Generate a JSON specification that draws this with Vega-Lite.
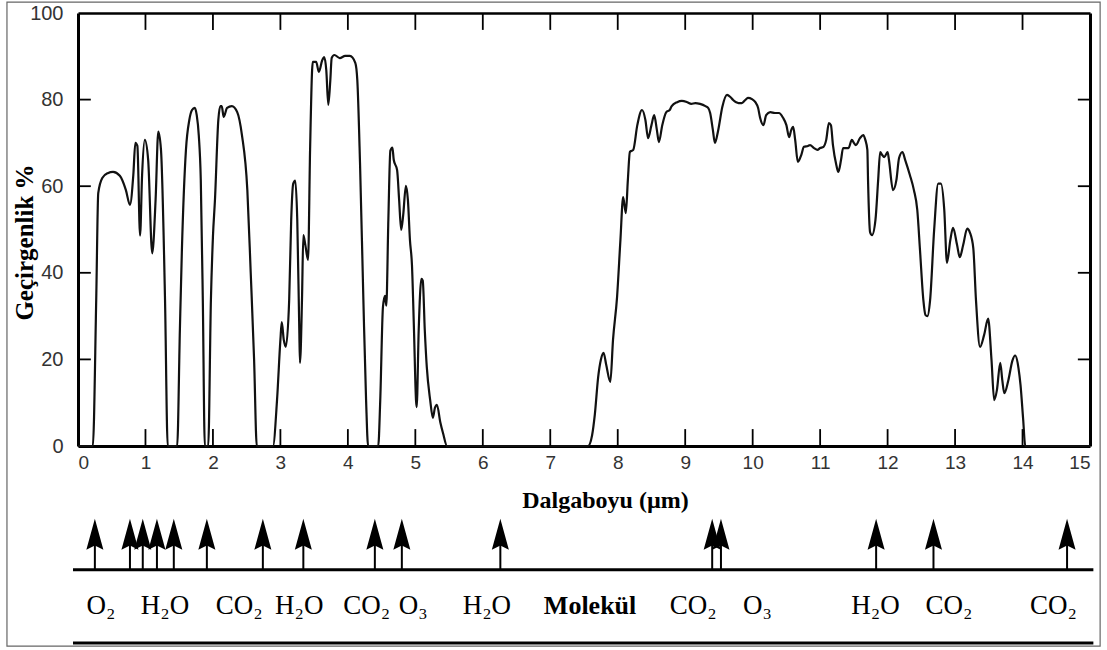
{
  "$schema": "https://vega.github.io/schema/vega-lite/v6.json",
  "width": 1012,
  "height": 433,
  "autosize": {"type": "none"},
  "padding": {"left": 78, "top": 13, "right": 17, "bottom": 204},
  "background": "white",
  "config": {"view": {"stroke": null}},
  "datasets": {
    "curve": [
      {"w":0,"t":0},{"w":0.22,"t":0},{"w":0.27,"t":33.7},{"w":0.30,"t":58.4},{"w":0.36,"t":61.9},{"w":0.44,"t":63.0},{"w":0.52,"t":63.3},{"w":0.62,"t":62.4},{"w":0.71,"t":59.1},{"w":0.77,"t":55.7},{"w":0.82,"t":62.6},{"w":0.85,"t":70.0},{"w":0.88,"t":69.3},{"w":0.92,"t":48.6},{"w":0.95,"t":62.6},{"w":0.99,"t":70.7},{"w":1.04,"t":66.1},{"w":1.10,"t":44.5},{"w":1.15,"t":56.8},{"w":1.19,"t":72.6},{"w":1.23,"t":68.4},{"w":1.29,"t":33.7},{"w":1.33,"t":0},
      {"w":1.47,"t":0},{"w":1.51,"t":26.8},{"w":1.54,"t":45.3},{"w":1.60,"t":68.4},{"w":1.65,"t":75.3},{"w":1.69,"t":77.6},{"w":1.73,"t":78.1},{"w":1.76,"t":76.4},{"w":1.79,"t":71.8},{"w":1.82,"t":61.4},{"w":1.85,"t":33.7},{"w":1.88,"t":0},
      {"w":1.93,"t":0},{"w":1.97,"t":33.7},{"w":2.00,"t":48.3},{"w":2.03,"t":56.8},{"w":2.08,"t":75.3},{"w":2.11,"t":78.5},{"w":2.13,"t":78.5},{"w":2.16,"t":76.0},{"w":2.21,"t":78.1},{"w":2.28,"t":78.5},{"w":2.36,"t":77.1},{"w":2.43,"t":71.8},{"w":2.51,"t":59.1},{"w":2.56,"t":40},{"w":2.61,"t":20},{"w":2.65,"t":0},
      {"w":2.89,"t":0},{"w":2.95,"t":10.6},{"w":3.00,"t":24.5},{"w":3.02,"t":28.6},{"w":3.05,"t":24.5},{"w":3.08,"t":22.9},{"w":3.13,"t":33.7},{"w":3.16,"t":52.2},{"w":3.19,"t":60.6},{"w":3.22,"t":61.3},{"w":3.25,"t":52.2},{"w":3.28,"t":26.8},{"w":3.29,"t":19.2},{"w":3.32,"t":33.7},{"w":3.34,"t":48.7},{"w":3.37,"t":46.4},{"w":3.41,"t":43.0},{"w":3.44,"t":68.4},{"w":3.47,"t":86.8},{"w":3.48,"t":88.7},{"w":3.53,"t":88.7},{"w":3.57,"t":86.4},{"w":3.62,"t":89.1},{"w":3.65,"t":89.8},{"w":3.68,"t":86.8},{"w":3.71,"t":78.8},{"w":3.74,"t":84.5},{"w":3.76,"t":89.6},{"w":3.80,"t":90.3},{"w":3.88,"t":89.6},{"w":3.96,"t":90.1},{"w":4.03,"t":90.1},{"w":4.11,"t":88.5},{"w":4.14,"t":84.5},{"w":4.18,"t":65.4},{"w":4.23,"t":33.7},{"w":4.27,"t":10.6},{"w":4.30,"t":0},
      {"w":4.45,"t":0},{"w":4.48,"t":10.6},{"w":4.52,"t":32.1},{"w":4.55,"t":34.7},{"w":4.57,"t":32.4},{"w":4.60,"t":52.2},{"w":4.63,"t":68.2},{"w":4.66,"t":68.9},{"w":4.68,"t":66.1},{"w":4.73,"t":63.7},{"w":4.76,"t":56.8},{"w":4.79,"t":49.9},{"w":4.82,"t":53.3},{"w":4.86,"t":60.1},{"w":4.89,"t":56.8},{"w":4.92,"t":47.6},{"w":4.95,"t":41.8},{"w":4.98,"t":26.8},{"w":5.01,"t":10.6},{"w":5.02,"t":9.0},{"w":5.05,"t":26.8},{"w":5.09,"t":38.6},{"w":5.11,"t":38.2},{"w":5.14,"t":26.8},{"w":5.17,"t":18.2},{"w":5.22,"t":10.6},{"w":5.26,"t":6.5},{"w":5.29,"t":8.8},{"w":5.32,"t":9.5},{"w":5.37,"t":5.5},{"w":5.41,"t":3.0},{"w":5.47,"t":0},
      {"w":7.56,"t":0},{"w":7.62,"t":2.5},{"w":7.66,"t":7.2},{"w":7.71,"t":15.9},{"w":7.75,"t":19.9},{"w":7.79,"t":21.5},{"w":7.83,"t":18.7},{"w":7.89,"t":14.8},{"w":7.93,"t":24.5},{"w":7.99,"t":34.4},{"w":8.04,"t":47.6},{"w":8.08,"t":57.5},{"w":8.12,"t":53.8},{"w":8.15,"t":61.4},{"w":8.18,"t":67.9},{"w":8.23,"t":68.4},{"w":8.29,"t":74.1},{"w":8.36,"t":77.6},{"w":8.41,"t":75.3},{"w":8.45,"t":71.1},{"w":8.50,"t":74.1},{"w":8.54,"t":76.4},{"w":8.58,"t":73.0},{"w":8.61,"t":70.2},{"w":8.66,"t":74.1},{"w":8.72,"t":77.1},{"w":8.77,"t":77.6},{"w":8.80,"t":78.5},{"w":8.88,"t":79.4},{"w":8.95,"t":79.7},{"w":9.03,"t":79.4},{"w":9.09,"t":79.0},{"w":9.15,"t":79.2},{"w":9.22,"t":79.0},{"w":9.30,"t":78.5},{"w":9.34,"t":78.1},{"w":9.37,"t":76.9},{"w":9.41,"t":73.0},{"w":9.44,"t":70.0},{"w":9.49,"t":73.0},{"w":9.55,"t":78.3},{"w":9.62,"t":81.1},{"w":9.67,"t":80.6},{"w":9.71,"t":79.9},{"w":9.79,"t":79.2},{"w":9.84,"t":79.2},{"w":9.89,"t":79.9},{"w":9.93,"t":80.4},{"w":9.99,"t":80.1},{"w":10.04,"t":79.4},{"w":10.08,"t":78.1},{"w":10.11,"t":75.8},{"w":10.16,"t":74.1},{"w":10.20,"t":76.4},{"w":10.26,"t":77.1},{"w":10.33,"t":76.9},{"w":10.39,"t":76.9},{"w":10.45,"t":75.8},{"w":10.50,"t":74.1},{"w":10.54,"t":71.3},{"w":10.57,"t":72.9},{"w":10.60,"t":73.7},{"w":10.63,"t":70.7},{"w":10.67,"t":65.6},{"w":10.72,"t":67.2},{"w":10.76,"t":69.1},{"w":10.82,"t":69.3},{"w":10.85,"t":69.5},{"w":10.91,"t":68.8},{"w":10.96,"t":68.4},{"w":11.00,"t":68.8},{"w":11.05,"t":69.1},{"w":11.09,"t":70.7},{"w":11.13,"t":74.6},{"w":11.16,"t":74.1},{"w":11.19,"t":69.5},{"w":11.24,"t":64.9},{"w":11.27,"t":63.3},{"w":11.31,"t":66.1},{"w":11.34,"t":68.8},{"w":11.42,"t":68.8},{"w":11.47,"t":70.7},{"w":11.50,"t":70.0},{"w":11.53,"t":69.5},{"w":11.59,"t":71.1},{"w":11.64,"t":71.8},{"w":11.67,"t":70.7},{"w":11.70,"t":68.4},{"w":11.71,"t":61.4},{"w":11.74,"t":49.4},{"w":11.77,"t":48.7},{"w":11.82,"t":52.2},{"w":11.86,"t":61.4},{"w":11.89,"t":67.9},{"w":11.92,"t":67.2},{"w":11.95,"t":66.7},{"w":12.00,"t":67.9},{"w":12.02,"t":66.1},{"w":12.08,"t":59.1},{"w":12.13,"t":61.4},{"w":12.17,"t":66.5},{"w":12.22,"t":67.9},{"w":12.26,"t":66.1},{"w":12.33,"t":62.6},{"w":12.39,"t":59.1},{"w":12.44,"t":54.5},{"w":12.48,"t":45.3},{"w":12.53,"t":33.7},{"w":12.56,"t":30.3},{"w":12.59,"t":30.0},{"w":12.63,"t":33.7},{"w":12.69,"t":49.9},{"w":12.75,"t":60.6},{"w":12.79,"t":60.6},{"w":12.84,"t":54.5},{"w":12.88,"t":42.3},{"w":12.93,"t":47.6},{"w":12.97,"t":50.4},{"w":13.03,"t":46.4},{"w":13.07,"t":43.6},{"w":13.12,"t":46.4},{"w":13.18,"t":50.2},{"w":13.22,"t":49.3},{"w":13.27,"t":45.7},{"w":13.31,"t":33.7},{"w":13.37,"t":22.9},{"w":13.43,"t":25.6},{"w":13.49,"t":29.4},{"w":13.54,"t":19.9},{"w":13.58,"t":10.6},{"w":13.62,"t":12.9},{"w":13.67,"t":19.2},{"w":13.70,"t":15.2},{"w":13.73,"t":12.2},{"w":13.79,"t":15.2},{"w":13.85,"t":19.7},{"w":13.89,"t":20.9},{"w":13.94,"t":18.0},{"w":13.97,"t":14.1},{"w":14.01,"t":6.0},{"w":14.04,"t":0},{"w":15,"t":0}
    ],
    "xticks": [
      {"w":1},{"w":2},{"w":3},{"w":4},{"w":5},{"w":6},{"w":7},{"w":8},{"w":9},{"w":10},{"w":11},{"w":12},{"w":13},{"w":14}
    ],
    "yticks": [
      {"t":20},{"t":40},{"t":60},{"t":80}
    ],
    "arrows": [
      {"w":0.25},{"w":0.77},{"w":0.96},{"w":1.17},{"w":1.42},{"w":1.91},{"w":2.74},{"w":3.34},{"w":4.40},{"w":4.80},{"w":6.26},{"w":9.40},{"w":9.53},{"w":11.83},{"w":12.68},{"w":14.66}
    ],
    "labels": [
      {"w":0.34,"label":"O₂"},{"w":1.29,"label":"H₂O"},{"w":2.39,"label":"CO₂"},{"w":3.28,"label":"H₂O"},{"w":4.28,"label":"CO₂"},{"w":4.97,"label":"O₃"},{"w":6.06,"label":"H₂O"},{"w":7.59,"label":"Molekül"},{"w":9.12,"label":"CO₂"},{"w":10.07,"label":"O₃"},{"w":11.82,"label":"H₂O"},{"w":12.91,"label":"CO₂"},{"w":14.46,"label":"CO₂"}
    ]
  },
  "resolve": {"axis": {"x": "independent", "y": "independent"}},
  "layer": [
    {
      "data": {"name": "curve"},
      "mark": {"type": "line", "color": "#111111", "strokeWidth": 2.2, "interpolate": "monotone"},
      "encoding": {
        "x": {"field": "w", "type": "quantitative", "scale": {"domain": [0, 15], "nice": false, "zero": false},
          "axis": {"orient": "bottom", "values": [0,1,2,3,4,5,6,7,8,9,10,11,12,13,14,15], "grid": false,
            "domainColor": "#000000", "domainWidth": 3, "ticks": false,
            "labelPadding": 7, "labelFont": "Liberation Sans", "labelFontSize": 19, "labelColor": "#333333",
            "title": "Dalgaboyu (µm)", "titleFont": "Liberation Serif", "titleFontSize": 24, "titleFontWeight": "bold",
            "titleColor": "#000000", "titleX": 527, "titleY": 61, "titleAlign": "center", "titleBaseline": "alphabetic"}},
        "y": {"field": "t", "type": "quantitative", "scale": {"domain": [0, 100], "nice": false},
          "axis": {"orient": "left", "values": [0,20,40,60,80,100], "grid": false,
            "domainColor": "#000000", "domainWidth": 3, "ticks": false,
            "labelPadding": 15, "labelFont": "Liberation Sans", "labelFontSize": 20, "labelColor": "#333333",
            "title": "Geçirgenlik %", "titleFont": "Liberation Serif", "titleFontSize": 25, "titleFontWeight": "bold",
            "titleColor": "#000000", "titleX": -54, "titleY": 229, "titleAngle": -90, "titleAlign": "center", "titleBaseline": "middle"}}
      }
    },
    {
      "data": {"values": [{}]},
      "mark": {"type": "rect", "fill": null, "stroke": "#666666", "strokeWidth": 1.2},
      "encoding": {
        "x": {"datum": -1.053, "type": "quantitative", "scale": {"domain": [0, 15], "nice": false, "zero": false},
          "axis": {"orient": "top", "values": [1], "grid": false, "labels": false, "title": null, "ticks": false,
            "domainColor": "#000000", "domainWidth": 2.5}},
        "x2": {"datum": 15.15},
        "y": {"datum": 102.5, "type": "quantitative", "scale": {"domain": [0, 100], "nice": false},
          "axis": {"orient": "right", "values": [20], "grid": false, "labels": false, "title": null, "ticks": false,
            "domainColor": "#000000", "domainWidth": 3}},
        "y2": {"datum": -46.2}
      }
    },
    {
      "data": {"name": "xticks"},
      "mark": {"type": "rule", "color": "#000000", "strokeWidth": 1.8},
      "encoding": {
        "x": {"field": "w", "type": "quantitative", "axis": null, "scale": {"domain": [0, 15], "nice": false, "zero": false}},
        "y": {"datum": 0, "type": "quantitative", "axis": null, "scale": {"domain": [0, 100], "nice": false}},
        "y2": {"datum": 3.9}
      }
    },
    {
      "data": {"name": "xticks"},
      "mark": {"type": "rule", "color": "#000000", "strokeWidth": 1.8},
      "encoding": {
        "x": {"field": "w", "type": "quantitative", "axis": null, "scale": {"domain": [0, 15], "nice": false, "zero": false}},
        "y": {"datum": 100, "type": "quantitative", "axis": null, "scale": {"domain": [0, 100], "nice": false}},
        "y2": {"datum": 96.1}
      }
    },
    {
      "data": {"name": "yticks"},
      "mark": {"type": "rule", "color": "#000000", "strokeWidth": 1.8},
      "encoding": {
        "y": {"field": "t", "type": "quantitative", "axis": null, "scale": {"domain": [0, 100], "nice": false}},
        "x": {"datum": 0, "type": "quantitative", "axis": null, "scale": {"domain": [0, 15], "nice": false, "zero": false}},
        "x2": {"datum": 0.19}
      }
    },
    {
      "data": {"name": "yticks"},
      "mark": {"type": "rule", "color": "#000000", "strokeWidth": 1.8},
      "encoding": {
        "y": {"field": "t", "type": "quantitative", "axis": null, "scale": {"domain": [0, 100], "nice": false}},
        "x": {"datum": 15, "type": "quantitative", "axis": null, "scale": {"domain": [0, 15], "nice": false, "zero": false}},
        "x2": {"datum": 14.82}
      }
    },
    {
      "data": {"name": "arrows"},
      "mark": {"type": "rule", "color": "#000000", "strokeWidth": 2},
      "encoding": {
        "x": {"field": "w", "type": "quantitative", "axis": null, "scale": {"domain": [0, 15], "nice": false, "zero": false}},
        "y": {"datum": -22, "type": "quantitative", "axis": null, "scale": {"domain": [0, 100], "nice": false}},
        "y2": {"datum": -28.6}
      }
    },
    {
      "data": {"name": "arrows"},
      "mark": {"type": "point", "shape": "M0,-1L0.55,1L0,0.72L-0.55,1Z", "filled": true, "color": "#000000", "opacity": 1, "size": 961},
      "encoding": {
        "x": {"field": "w", "type": "quantitative", "axis": null, "scale": {"domain": [0, 15], "nice": false, "zero": false}},
        "y": {"datum": -20.4, "type": "quantitative", "axis": null, "scale": {"domain": [0, 100], "nice": false}}
      }
    },
    {
      "data": {"values": [{}]},
      "mark": {"type": "rule", "color": "#000000", "strokeWidth": 3},
      "encoding": {
        "x": {"datum": -0.074, "type": "quantitative", "axis": null, "scale": {"domain": [0, 15], "nice": false, "zero": false}},
        "x2": {"datum": 15.05},
        "y": {"datum": -28.6, "type": "quantitative", "axis": null, "scale": {"domain": [0, 100], "nice": false}}
      }
    },
    {
      "data": {"values": [{}]},
      "mark": {"type": "rule", "color": "#000000", "strokeWidth": 3},
      "encoding": {
        "x": {"datum": -0.074, "type": "quantitative", "axis": null, "scale": {"domain": [0, 15], "nice": false, "zero": false}},
        "x2": {"datum": 15.05},
        "y": {"datum": -45.5, "type": "quantitative", "axis": null, "scale": {"domain": [0, 100], "nice": false}}
      }
    },
    {
      "data": {"name": "labels"},
      "transform": [{"filter": "datum.label !== 'Molekül'"}],
      "mark": {"type": "text", "font": "Liberation Serif", "fontSize": 27, "color": "#000000", "baseline": "middle", "align": "center"},
      "encoding": {
        "x": {"field": "w", "type": "quantitative", "axis": null, "scale": {"domain": [0, 15], "nice": false, "zero": false}},
        "y": {"datum": -37, "type": "quantitative", "axis": null, "scale": {"domain": [0, 100], "nice": false}},
        "text": {"field": "label"}
      }
    },
    {
      "data": {"name": "labels"},
      "transform": [{"filter": "datum.label === 'Molekül'"}],
      "mark": {"type": "text", "font": "Liberation Serif", "fontSize": 26, "fontWeight": "bold", "color": "#000000", "baseline": "middle", "align": "center"},
      "encoding": {
        "x": {"field": "w", "type": "quantitative", "axis": null, "scale": {"domain": [0, 15], "nice": false, "zero": false}},
        "y": {"datum": -37, "type": "quantitative", "axis": null, "scale": {"domain": [0, 100], "nice": false}},
        "text": {"field": "label"}
      }
    }
  ]
}
